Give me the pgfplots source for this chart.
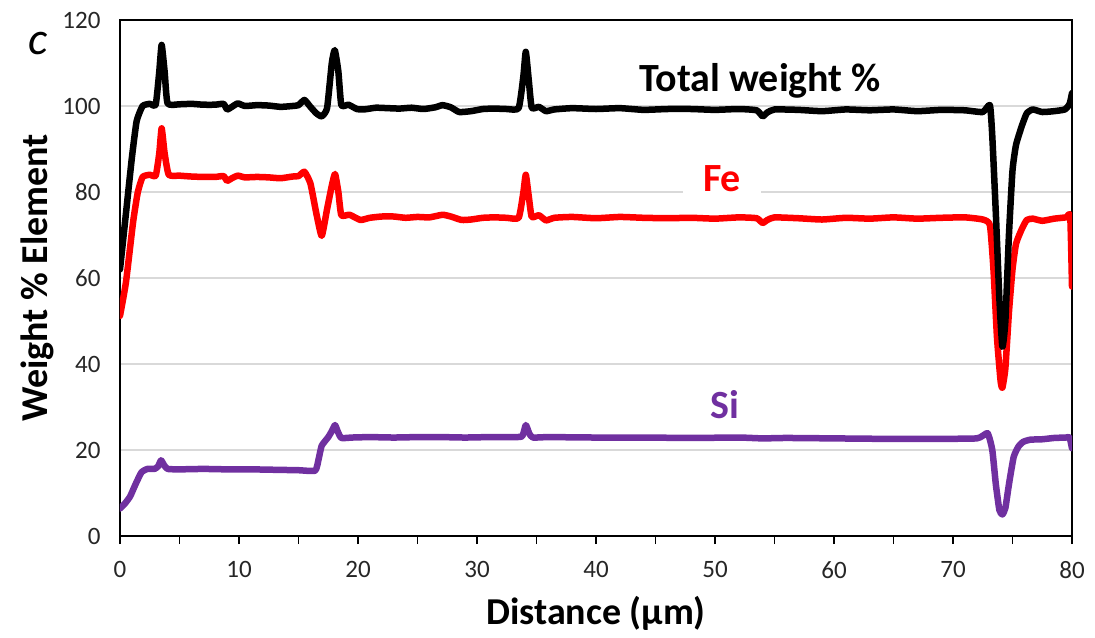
\documentclass[border=0pt]{standalone}
\usepackage{pgfplots}
\pgfplotsset{compat=1.18}
\usepackage{fontspec}
\setmainfont{Carlito}
\definecolor{sipurple}{RGB}{112,48,160}
\definecolor{gridgray}{RGB}{217,217,217}

\pgfplotstableread{
x y
0 62
0.5 75
1.0 88
1.4 96.5
1.9 100
2.5 100.5
3.0 100.3
3.3 108
3.5 114.2
3.75 108
4.0 100.6
5 100.4
6 100.5
7 100.3
8 100.3
8.7 100.5
9.0 99.2
9.4 99.8
9.9 100.6
10.5 100
11.5 100.2
12.5 100.1
13.5 99.8
14.5 100
15.0 100.2
15.5 101.4
16.0 99.8
16.5 98.3
16.95 97.6
17.4 99.5
17.8 110
18.05 113
18.35 108
18.6 100.2
19.2 100.3
19.9 99.3
20.5 99.2
21.5 99.6
22.5 99.5
23.5 99.4
24.5 99.6
25.5 99.3
26.5 99.7
27.1 100.2
27.8 99.7
28.5 98.6
29.5 98.8
30.5 99.3
31.5 99.4
32.5 99.3
33.5 99.5
33.9 107
34.1 112.6
34.35 106
34.6 99.6
35.2 99.8
35.8 98.8
36.5 99.2
38 99.5
40 99.3
42 99.5
44 99.1
46 99.3
48 99.3
50 99.1
52 99.3
53.5 99.0
54.0 97.6
54.4 98.5
55 99.2
57 99.1
59 98.8
61 99.2
63 99.0
65 99.2
67 98.8
69 99.1
71 99.0
72.5 98.6
73.1 100.2
73.3 93
73.6 75
73.9 55
74.15 44
74.4 50
74.7 70
75.0 85
75.3 91
75.8 95.5
76.2 98.3
76.7 99.2
77.5 98.6
78.5 98.8
79.4 99.2
79.8 100.5
80 103
}\total

\pgfplotstableread{
x y
0 51.2
0.5 59
1.1 73
1.5 80
1.9 83.5
2.5 84
3.0 83.8
3.3 89
3.5 94.8
3.75 89
4.1 84
5 83.8
6 83.6
7 83.5
8 83.5
8.7 83.7
9.0 82.6
9.4 83.2
9.9 83.8
10.5 83.4
11.5 83.5
12.5 83.4
13.5 83.2
14.5 83.6
15.0 83.7
15.5 84.7
16.0 82
16.5 75
16.95 69.8
17.4 76
17.8 81.5
18.07 84.2
18.35 80
18.6 74.6
19.3 74.7
20.2 73.5
21 74
22 74.3
23 74.3
24 74
25 74.2
26 74.1
27.1 74.7
27.8 74.3
28.7 73.5
29.5 73.6
30.5 74
31.5 74.1
32.5 74
33.5 74
33.9 80
34.1 84
34.35 79
34.6 74.2
35.2 74.6
35.8 73.4
36.5 74
38 74.2
40 73.9
42 74.2
44 74
46 73.9
48 74
50 73.8
52 74.1
53.5 73.9
54 72.8
54.4 73.5
55 74.1
57 73.9
59 73.6
61 74
63 73.8
65 74.1
67 73.8
69 74
71 74.1
72.5 73.6
73.1 72.3
73.4 62
73.7 46
74.0 36
74.15 34.5
74.4 39
74.7 52
75.0 62
75.3 68
75.8 71.5
76.2 73.5
76.7 73.8
77.5 73.3
78.5 73.8
79.5 74.1
79.85 74.3
80 58
}\fe

\pgfplotstableread{
x y
0 6.4
0.4 7.5
0.85 9.2
1.3 12
1.8 14.8
2.3 15.6
2.9 15.6
3.2 16.2
3.45 17.6
3.7 16.5
4.0 15.6
5 15.5
7 15.6
9 15.5
11 15.5
13 15.4
15 15.3
16.4 15.2
16.7 18
16.95 21
17.5 23
17.8 24.4
18.07 25.8
18.3 24.3
18.6 22.8
19.5 22.9
21 23
23 22.9
25 23
27 23
29 22.9
31 23
33 23
33.8 23.2
34.1 25.8
34.4 23.8
34.7 22.9
36 23
40 22.9
44 22.9
48 22.8
52 22.9
54 22.7
56 22.8
60 22.7
64 22.6
68 22.6
72 22.7
72.9 23.9
73.3 20
73.6 12
73.9 6
74.15 5.0
74.4 6.5
74.7 12
75.1 18.4
75.5 20.8
75.9 21.9
76.5 22.4
77.5 22.5
78.5 22.8
79.5 22.9
79.8 22.9
80 20.4
}\si

\begin{document}
\begin{tikzpicture}
\begin{axis}[
 scale only axis,
 width=952pt,height=516pt,
 xmin=0,xmax=80,ymin=0,ymax=120,
 xtick={0,10,...,80},ytick={0,20,...,120},
 minor x tick num=1,
 xtick pos=bottom,tick align=outside,
 major tick length=8pt,minor tick length=8pt,
 x tick style={black,line width=1.5pt},
 y tick style={draw=none},
 axis line style={black,line width=2pt},
 ymajorgrids,grid style={gridgray,line width=1.5pt},
 tick label style={font=\fontsize{25}{29}\selectfont,text=black!85},
 /pgf/number format/assume math mode=true,
 yticklabel style={xshift=-8pt},
 xticklabel style={yshift=-14pt},
 xlabel={\bfseries Distance (µm)},
 ylabel={\bfseries Weight \% Element},
 label style={font=\fontsize{38}{44}\selectfont},
 xlabel style={at={(axis description cs:0.5,-0.149)},anchor=center},
 ylabel style={at={(axis description cs:-0.087,0.5)},anchor=center},
 every axis plot/.append style={line width=6.5pt,line join=round,line cap=round,smooth,tension=0.3},
]
\addplot[sipurple] table[x=x,y=y]{\si};
\addplot[red] table[x=x,y=y]{\fe};
\addplot[black] table[x=x,y=y]{\total};
\node[font=\fontsize{40}{46}\selectfont\bfseries,anchor=base] at (axis cs:53.8,103.3) {Total weight \%};
\node[font=\fontsize{40}{46}\selectfont\bfseries,text=red,fill=white,inner xsep=20pt,inner ysep=4pt,anchor=base] at (axis cs:50.6,80.0) {Fe};
\node[font=\fontsize{40}{46}\selectfont\bfseries,text=sipurple,anchor=base] at (axis cs:50.8,27.4) {Si};
\coordinate (sw) at (rel axis cs:0,0);
\coordinate (ne) at (rel axis cs:1,1);
\end{axis}
\node[font=\fontsize{46}{52}\selectfont\itshape] at ([shift={(-82pt,-24pt)}]sw |- ne) {c};
\pgfresetboundingbox
\path ([shift={(-120pt,-101pt)}]sw) rectangle ([shift={(23pt,20pt)}]ne);
\end{tikzpicture}
\end{document}
